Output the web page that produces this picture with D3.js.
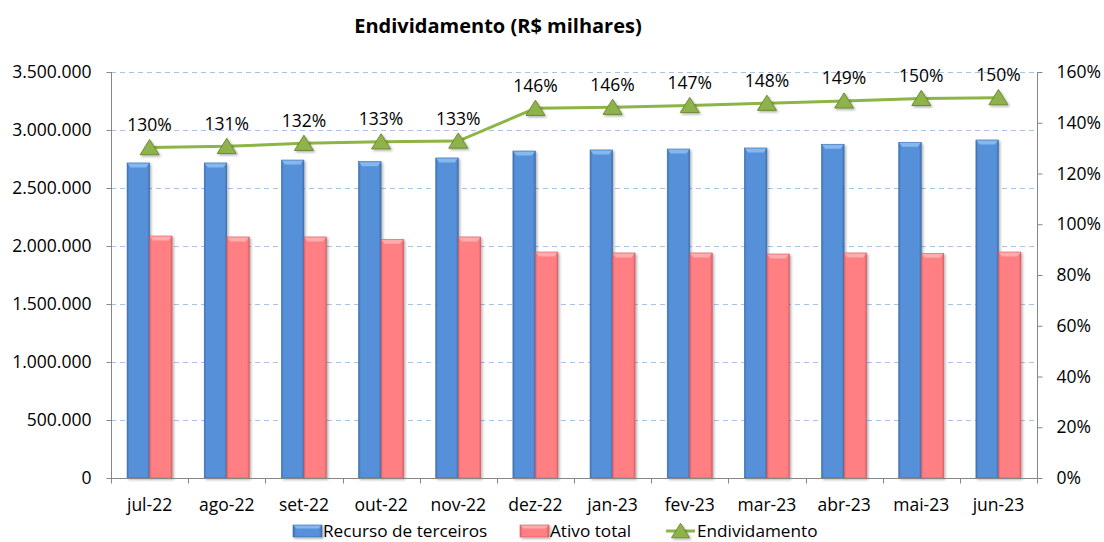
<!DOCTYPE html>
<html><head><meta charset="utf-8">
<script src="https://cdn.jsdelivr.net/npm/d3@7"></script>
<style>
body{margin:0;background:#fff;}
text{font-family:"Open Sans",sans-serif;}
</style></head>
<body>
<svg id="c" width="1104" height="542"></svg>
<script>
const categories = ["jul-22","ago-22","set-22","out-22","nov-22","dez-22","jan-23","fev-23","mar-23","abr-23","mai-23","jun-23"];
const recursoTerceiros = [2716000,2716000,2741000,2727000,2759000,2819000,2828000,2836000,2845000,2877000,2894000,2914000];
const ativoTotal = [2086000,2078000,2078000,2058000,2078000,1948000,1940000,1940000,1931000,1940000,1937000,1948000];
const endividamento = [1.302,1.307,1.319,1.325,1.328,1.457,1.461,1.468,1.477,1.486,1.496,1.499];
const leftTicks = [0,500000,1000000,1500000,2000000,2500000,3000000,3500000];
const rightTicks = [0,0.2,0.4,0.6,0.8,1.0,1.2,1.4,1.6];
const seriesNames = ["Recurso de terceiros","Ativo total","Endividamento"];
const title = "Endividamento (R$ milhares)";

const FS = 17.5;
const svg = d3.select("#c");
const L = 111, R = 1037, T = 72, B = 478;
const x = d3.scaleBand().domain(categories).range([L,R]).paddingInner(0).paddingOuter(0);
const yL = d3.scaleLinear().domain([0,3500000]).range([B,T]);
const yR = d3.scaleLinear().domain([0,1.6]).range([B,T]);
const fmtN = d => d3.format(",")(d).replace(/,/g,".");

const defs = svg.append("defs");
function grad(id, stops){
  const g = defs.append("linearGradient").attr("id",id).attr("x1","0").attr("x2","1").attr("y1","0").attr("y2","0");
  stops.forEach(s=>g.append("stop").attr("offset",s[0]).attr("stop-color",s[1]));
}
grad("gBlue",[[0,"#3f72b5"],[0.1,"#5590d8"],[0.9,"#5590d8"],[1,"#3f6fae"]]);
grad("gRed",[[0,"#e0666b"],[0.1,"#ff7f83"],[0.9,"#ff7f83"],[1,"#d9646a"]]);
const sh = defs.append("filter").attr("id","sh").attr("x","-20%").attr("y","-20%").attr("width","150%").attr("height","150%");
sh.append("feDropShadow").attr("dx",1.5).attr("dy",1.5).attr("stdDeviation",1).attr("flood-color","#000").attr("flood-opacity",0.3);

// title
svg.append("text").attr("x",498).attr("y",33).attr("text-anchor","middle")
  .attr("font-size",20).attr("font-weight","bold").attr("fill","#000").text(title);

// gridlines
svg.append("g").selectAll("line").data(leftTicks.filter(d=>d>0)).join("line")
  .attr("x1",L).attr("x2",R).attr("y1",d=>Math.round(yL(d))+0.5).attr("y2",d=>Math.round(yL(d))+0.5)
  .attr("stroke","#a9c3e6").attr("stroke-dasharray","5,4").attr("stroke-width",1);

// left axis
const gl = svg.append("g").attr("transform",`translate(${L+0.5},0)`)
  .call(d3.axisLeft(yL).tickValues(leftTicks).tickFormat(fmtN).tickSize(5).tickPadding(15));
// right axis
const gr = svg.append("g").attr("transform",`translate(${R+0.5},0)`)
  .call(d3.axisRight(yR).tickValues(rightTicks).tickFormat(d3.format(".0%")).tickSize(5).tickPadding(14));
[gl,gr].forEach(g=>{
  g.select(".domain").attr("stroke","#868686").attr("d", `M0,${T}V${B+0.5}`);
  g.selectAll(".tick line").attr("stroke","#868686");
  g.selectAll(".tick text").attr("font-size",FS).attr("fill","#000").attr("font-family","'Open Sans',sans-serif");
});

// bars
const bw = 22.5;
const bars = svg.append("g");
categories.forEach((c,i)=>{
  const cx = x(c)+x.bandwidth()/2;
  [[recursoTerceiros[i],"url(#gBlue)","#3a6aa8","#8fc0f5",cx-bw],[ativoTotal[i],"url(#gRed)","#cf5a60","#ffb4b7",cx]].forEach(([v,f,s,hl,x0])=>{
    const y0 = yL(v);
    const g = bars.append("g").attr("filter","url(#sh)");
    g.append("rect").attr("x",x0).attr("y",y0).attr("width",bw).attr("height",B-y0).attr("fill",f).attr("stroke",s).attr("stroke-width",0.6);
    g.append("path").attr("d",`M${x0+0.5},${y0+0.5}h${bw-1}l-3,4h${-(bw-7)}z`).attr("fill",hl).attr("opacity",0.85);
  });
});

// x axis
const gx = svg.append("g").attr("transform",`translate(0,${B+0.5})`);
gx.append("line").attr("x1",L).attr("x2",R).attr("stroke","#868686");
gx.selectAll("line.t").data(categories.concat(["_end"])).join("line").attr("class","t")
  .attr("x1",(d,i)=>Math.round(L + i*x.bandwidth())+0.5).attr("x2",(d,i)=>Math.round(L + i*x.bandwidth())+0.5)
  .attr("y1",0).attr("y2",5).attr("stroke","#868686");
gx.selectAll("text").data(categories).join("text")
  .attr("x",d=>x(d)+x.bandwidth()/2).attr("y",32).attr("text-anchor","middle")
  .attr("font-size",FS).attr("fill","#000").text(d=>d);

// line
const line = d3.line().x((d,i)=>x(categories[i])+x.bandwidth()/2).y(d=>yR(d));
svg.append("path").datum(endividamento).attr("d",line).attr("fill","none").attr("stroke","#8db545").attr("stroke-width",3);
const tri = (cx,cy,s)=>`M${cx},${cy-s*0.85}L${cx+s},${cy+s*0.75}L${cx-s},${cy+s*0.75}Z`;
const mk = svg.append("g").attr("filter","url(#sh)");
endividamento.forEach((v,i)=>{
  const cx = x(categories[i])+x.bandwidth()/2, cy = yR(v);
  mk.append("path").attr("d",tri(cx,cy,9.5)).attr("fill","#8fb34b").attr("stroke","#6d8a36").attr("stroke-width",1);
});
svg.append("g").selectAll("text").data(endividamento).join("text")
  .attr("x",(d,i)=>x(categories[i])+x.bandwidth()/2).attr("y",d=>yR(d)-16.5)
  .attr("text-anchor","middle").attr("font-size",FS).attr("fill","#000")
  .text(d=>Math.round(d*100)+"%");

// legend
const lg = svg.append("g");
const ly = 531;
const lfs = 17.2, lby = 536.5;
function swatch(x0,fill,stroke,hl){
  const g = lg.append("g").attr("filter","url(#sh)");
  g.append("rect").attr("x",x0).attr("y",ly-6).attr("width",29).attr("height",12).attr("fill",fill).attr("stroke",stroke).attr("stroke-width",0.6);
  g.append("path").attr("d",`M${x0+0.5},${ly-5.5}h28l-3,3h-22z`).attr("fill",hl).attr("opacity",0.85);
}
swatch(293,"url(#gBlue)","#3a6aa8","#8fc0f5");
lg.append("text").attr("x",323).attr("y",lby).attr("font-size",lfs).text(seriesNames[0]);
swatch(520,"url(#gRed)","#cf5a60","#ffb4b7");
lg.append("text").attr("x",550).attr("y",lby).attr("font-size",lfs).text(seriesNames[1]);
lg.append("line").attr("x1",666).attr("x2",695).attr("y1",ly).attr("y2",ly).attr("stroke","#8db545").attr("stroke-width",3);
lg.append("path").attr("d",tri(680.5,ly,9)).attr("fill","#8fb34b").attr("stroke","#6d8a36").attr("filter","url(#sh)");
lg.append("text").attr("x",697).attr("y",lby).attr("font-size",lfs).text(seriesNames[2]);
</script>
</body></html>
